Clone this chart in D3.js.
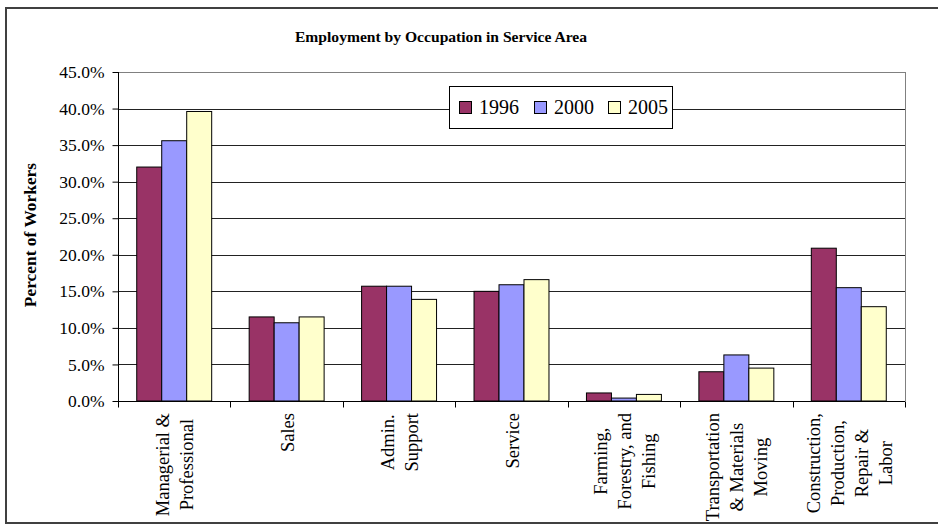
<!DOCTYPE html>
<html>
<head>
<meta charset="utf-8">
<script src="https://cdn.jsdelivr.net/npm/d3@7"></script>
<style>
  html, body { margin: 0; padding: 0; background: #fff; }
  svg, svg text { font-family: "Liberation Serif", "Times New Roman", Times, "DejaVu Serif", serif; }
</style>
</head>
<body>
<svg id="chart" width="938" height="525"></svg>
<script>
const categories = [
  ["Managerial &", "Professional"],
  ["Sales"],
  ["Admin.", "Support"],
  ["Service"],
  ["Farming,", "Forestry, and", "Fishing"],
  ["Transportation", "& Materials", "Moving"],
  ["Construction,", "Production,", "Repair &", "Labor"]
];
const seriesNames = ["1996", "2000", "2005"];
const values1996 = [32.0, 11.5, 15.7, 15.0, 1.1, 4.0, 20.9];
const values2000 = [35.6, 10.7, 15.7, 15.9, 0.4, 6.3, 15.5];
const values2005 = [39.6, 11.5, 13.9, 16.6, 0.9, 4.5, 12.9];
const yTicks = [0, 5, 10, 15, 20, 25, 30, 35, 40, 45];
const colors = ["#993366", "#9999FF", "#FFFFCC"];
const title = "Employment by Occupation in Service Area";
const yLabel = "Percent of Workers";

(function () {
const FONT = '"Liberation Serif", "Times New Roman", Times, "DejaVu Serif", serif';
const series = [values1996, values2000, values2005];
const svg = d3.select("#chart");

// outer frame
svg.append("rect").attr("x", 6).attr("y", 8).attr("width", 940).attr("height", 515)
  .attr("fill", "#fff").attr("stroke", "#404040").attr("stroke-width", 2);

const pL = 118, pR = 905, pT = 72, pB = 401;
const x = d3.scaleBand().domain(d3.range(categories.length)).range([pL, pR]).padding(0);
const y = d3.scaleLinear().domain([0, 45]).range([pB, pT]);
const groupW = x.bandwidth() / 1.5;
const xs = d3.scaleBand().domain(d3.range(3)).range([0, groupW]).padding(0);

// gridlines
svg.append("g").selectAll("line").data(yTicks.filter(d => d > 0)).join("line")
  .attr("x1", pL).attr("x2", pR)
  .attr("y1", d => Math.round(y(d)) + 0.5).attr("y2", d => Math.round(y(d)) + 0.5)
  .attr("stroke", d => d === 45 ? "#808080" : "#222").attr("stroke-width", 1);
svg.append("line").attr("x1", pR + 0.5).attr("x2", pR + 0.5).attr("y1", pT).attr("y2", pB)
  .attr("stroke", "#808080");

// bars
const gBars = svg.append("g");
series.forEach((vals, si) => {
  gBars.selectAll(null).data(vals).join("rect")
    .attr("x", (d, i) => x(i) + (x.bandwidth() - groupW) / 2 + xs(si))
    .attr("y", d => y(d))
    .attr("width", xs.bandwidth())
    .attr("height", d => y(0) - y(d))
    .attr("fill", colors[si]).attr("stroke", "#000").attr("stroke-width", 1);
});

// y axis
const yAxis = d3.axisLeft(y).tickValues(yTicks).tickSize(6).tickPadding(8)
  .tickFormat(d => d.toFixed(1) + "%");
const gy = svg.append("g").attr("transform", `translate(${pL + 0.5},0)`).call(yAxis)
  .attr("font-family", FONT).attr("font-size", 17.5);
gy.select(".domain").attr("stroke", "#000").attr("d", `M0,${pT}V${pB}`);
gy.selectAll(".tick line").attr("stroke", "#000");
gy.selectAll(".tick text").attr("fill", "#000");

// x axis
const xAxis = d3.axisBottom(x).tickValues([]).tickSize(0);
const gx = svg.append("g").attr("transform", `translate(0,${pB + 0.5})`).call(xAxis);
gx.select(".domain").attr("stroke", "#000").attr("d", `M${pL},0H${pR}`);
gx.selectAll("line.bt").data(d3.range(categories.length + 1)).join("line").attr("class", "bt")
  .attr("x1", i => Math.round(pL + i * x.step()) + 0.5)
  .attr("x2", i => Math.round(pL + i * x.step()) + 0.5)
  .attr("y1", 0).attr("y2", 6).attr("stroke", "#000");

// category labels rotated, lines center-aligned in a block anchored at top
const lineGap = 24;
categories.forEach((lines, i) => {
  const cx = x(i) + x.bandwidth() / 2;
  const n = lines.length;
  const nodes = lines.map((ln, j) => {
    const lx = cx + (j - (n - 1) / 2) * lineGap + 7;
    return svg.append("text")
      .attr("data-x", lx)
      .attr("text-anchor", "middle")
      .attr("font-family", FONT)
      .attr("font-size", 18.5).attr("fill", "#000")
      .text(ln);
  });
  const maxLen = d3.max(nodes, t => t.node().getComputedTextLength());
  nodes.forEach(t => {
    t.attr("transform", `translate(${t.attr("data-x")},${413 + maxLen / 2}) rotate(-90)`);
  });
});

// title
svg.append("text").attr("x", 441).attr("y", 42).attr("text-anchor", "middle")
  .attr("font-family", FONT)
  .attr("font-size", 15.6).attr("font-weight", "bold").text(title);

// y label
svg.append("text").attr("transform", "translate(36,235) rotate(-90)")
  .attr("font-family", FONT)
  .attr("text-anchor", "middle").attr("font-size", 17.4).attr("font-weight", "bold").text(yLabel);

// legend
const lg = svg.append("g").attr("font-family", FONT);
lg.append("rect").attr("x", 449.5).attr("y", 86.5).attr("width", 223).attr("height", 42)
  .attr("fill", "#fff").attr("stroke", "#000");
const lx0 = [459, 534, 608];
seriesNames.forEach((s, i) => {
  lg.append("rect").attr("x", lx0[i] + 0.5).attr("y", 101.5).attr("width", 12).attr("height", 12)
    .attr("fill", colors[i]).attr("stroke", "#000");
  lg.append("text").attr("x", lx0[i] + 20).attr("y", 114).attr("font-size", 20).attr("fill", "#000").text(s);
});
})();
</script>
</body>
</html>
